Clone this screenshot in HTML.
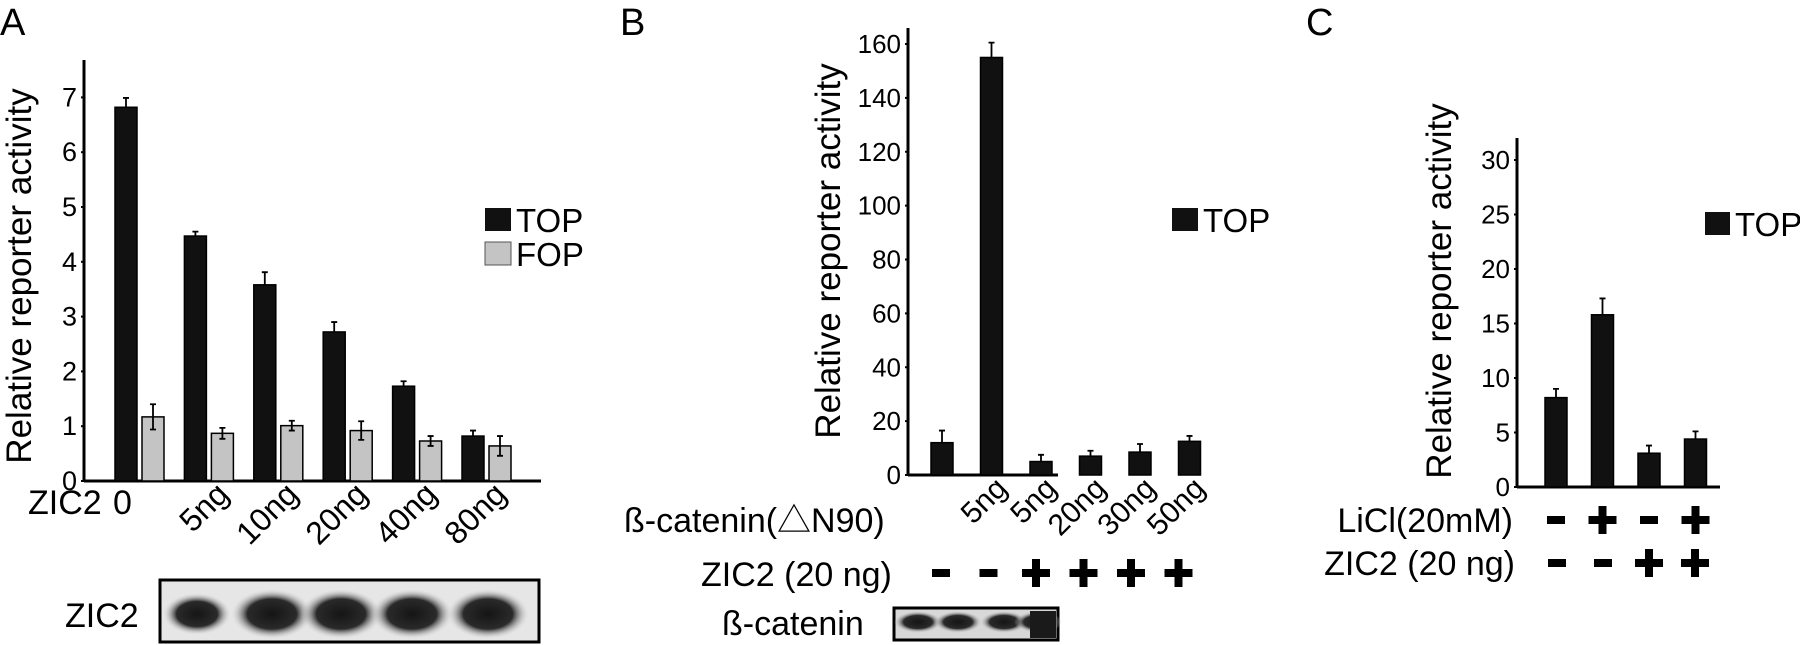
<!DOCTYPE html>
<html><head><meta charset="utf-8"><style>
html,body{margin:0;padding:0;background:#fff}
svg{display:block;font-family:"Liberation Sans",sans-serif}
</style></head><body>
<svg id="fig" width="1800" height="645" viewBox="0 0 1800 645">
<defs>
<radialGradient id="band" cx="50%" cy="50%" r="50%"><stop offset="0" stop-color="#151515"/><stop offset="0.6" stop-color="#2a2a2a"/><stop offset="1" stop-color="#ddd" stop-opacity="0"/></radialGradient>
</defs>
<text x="0" y="35" font-size="38">A</text>
<text x="620" y="35" font-size="38">B</text>
<text x="1306" y="35" font-size="38">C</text>
</svg>
<script>
// Panel A data
const aCats = ["0","5ng","10ng","20ng","40ng","80ng"];
const aTop = [6.82,4.47,3.58,2.72,1.73,0.82];
const aTopErr = [0.17,0.08,0.23,0.18,0.09,0.1];
const aFop = [1.17,0.87,1.01,0.92,0.73,0.64];
const aFopErr = [0.23,0.1,0.09,0.17,0.09,0.18];
const aTicks = [0,1,2,3,4,5,6,7];
// Panel B data
const bCats = ["","5ng","5ng","20ng","30ng","50ng"];
const bZic = ["-","-","+","+","+","+"];
const bTop = [12,155,5,7,8.5,12.5];
const bTopErr = [4.5,5.5,2.5,2,3,2];
const bTicks = [0,20,40,60,80,100,120,140,160];
// Panel C data
const cLicl = ["-","+","-","+"];
const cZic = ["-","-","+","+"];
const cTop = [8.2,15.8,3.1,4.4];
const cTopErr = [0.8,1.5,0.7,0.7];
const cTicks = [0,5,10,15,20,25,30];

const NS="http://www.w3.org/2000/svg";
const svg=document.getElementById('fig');
function mk(tag,attrs,parent){const e=document.createElementNS(NS,tag);for(const k in attrs)e.setAttribute(k,attrs[k]);(parent||svg).appendChild(e);return e;}
function txt(s,attrs){const e=mk('text',attrs);e.textContent=s;return e;}

function axis(x0,yb,ytop,xend,ticks,yScale,name,tickFs){
  let l=mk('line',{x1:x0,y1:ytop,x2:x0,y2:yb,stroke:'#000','stroke-width':3});
  
  
  l=mk('line',{x1:x0,y1:yb,x2:xend,y2:yb,stroke:'#000','stroke-width':3});
  
  
  ticks.forEach(t=>{
    const y=yScale(t);
    mk('line',{x1:x0-3,y1:y,x2:x0,y2:y,stroke:'#000','stroke-width':2});
    const e=txt(String(t),{x:x0-7,y:y+9,'font-size':tickFs,'text-anchor':'end'});
    
    
  });
}
function bar(x,w,v,err,yScale,yb,fill,name,both){
  const y=yScale(v);
  const r=mk('rect',{x:x,y:y,width:w,height:yb-y,fill:fill,stroke:'#000','stroke-width':1.5});
  
  
  const cx=x+w/2, ye=yScale(v+err), yl=yScale(Math.max(0,v-err));
  const d=both?`M${cx},${ye}V${yl}M${cx-3},${ye}H${cx+3}M${cx-3},${yl}H${cx+3}`:`M${cx},${ye}V${y}M${cx-3},${ye}H${cx+3}`;
  const g=mk('path',{d:d,stroke:'#000','stroke-width':1.8,fill:'none'});
  
  
}
function ytitle(bx,cy,fs){
  const e=txt('Relative reporter activity',{x:0,y:0,'font-size':fs,'text-anchor':'middle',transform:`translate(${bx},${cy}) rotate(-90)`});
  
  
}
function sign(s,cx,cy){
  const g=mk('path',{d:s==='+'?`M${cx-14},${cy}H${cx+14}M${cx},${cy-14}V${cy+14}`:`M${cx-9},${cy}H${cx+9}`,stroke:'#000','stroke-width':8,fill:'none'});
  
  
}
function rotLabel(s,x,y,fs){
  const e=txt(s,{x:0,y:0,'font-size':fs,'text-anchor':'end',transform:`translate(${x},${y}) rotate(-45)`});
  
  
}

// ---- Panel A ----
const aYb=481, aU=54.8;
const aY=v=>aYb-v*aU;
axis(84,aYb,60,541,aTicks,aY,'panel-a',27);
ytitle(31,276,35);
aCats.forEach((c,i)=>{
  const x=115+i*69.4;
  bar(x,22,aTop[i],aTopErr[i],aY,aYb,'#111','bar-top-'+i,false);
  bar(x+27,22,aFop[i],aFopErr[i],aY,aYb,'#c4c4c4','bar-fop-'+i,true);
  if(i>0) rotLabel(c,x+46,496,32);
});
let e=txt('ZIC2',{x:28,y:514,'font-size':34});


e=txt('0',{x:113,y:514,'font-size':34});


// legend A
let r=mk('rect',{x:485,y:208,width:26,height:23,fill:'#111'});


e=txt('TOP',{x:516,y:232,'font-size':33});


r=mk('rect',{x:485,y:242,width:26,height:23,fill:'#c4c4c4',stroke:'#555','stroke-width':1});


e=txt('FOP',{x:516,y:266,'font-size':33});


// blot A
r=mk('rect',{x:160,y:580,width:379,height:62,fill:'#e6e6e6',stroke:'#000','stroke-width':3});


[197,272,341,412,488].forEach((cx,i)=>{
  const b=mk('ellipse',{cx:cx,cy:614,rx:i==0?34:41,ry:i==0?21:25,fill:'url(#band)'});
  
  
});
e=txt('ZIC2',{x:65,y:627,'font-size':34});



// ---- Panel B ----
const bYb=475, bU=(475-44)/160;
const bY=v=>bYb-v*bU;
axis(908,bYb,28,1058,bTicks,bY,'panel-b',26);
ytitle(840,251,35);
bTop.forEach((v,i)=>{
  const x=931+i*49.5;
  bar(x,22,v,bTopErr[i],bY,bYb,'#111','bar-b-top-'+i,false);
  if(bCats[i]) rotLabel(bCats[i],x+28,490,30);
  sign(bZic[i],941+i*47.5,573);
});
e=txt('ß-catenin(△N90)',{x:624,y:532,'font-size':34,'font-family':'"Liberation Sans","Noto Sans CJK JP",sans-serif'});


e=txt('ZIC2 (20 ng)',{x:701,y:586,'font-size':34});


r=mk('rect',{x:894,y:608,width:164,height:32,fill:'#d8d8d8',stroke:'#000','stroke-width':3});


[918,958,1004,1038].forEach((cx,i)=>{
  const b=mk('ellipse',{cx:cx,cy:622,rx:24,ry:11,fill:'url(#band)'});
  
  
});
r=mk('rect',{x:1030,y:611,width:26,height:27,fill:'#1a1a1a'});


e=txt('ß-catenin',{x:722,y:635,'font-size':34});


r=mk('rect',{x:1172,y:208,width:26,height:23,fill:'#111'});


e=txt('TOP',{x:1203,y:232,'font-size':33});



// ---- Panel C ----
const cYb=487, cU=(487-160)/30;
const cY=v=>cYb-v*cU;
axis(1517,cYb,138,1720,cTicks,cY,'panel-c',26);
ytitle(1451,291,35);
cTop.forEach((v,i)=>{
  const x=1545+i*46.5;
  bar(x,22,v,cTopErr[i],cY,cYb,'#111','bar-c-top-'+i,false);
  sign(cLicl[i],1556+i*46.5,520);
  sign(cZic[i],1557+i*46,563);
});
e=txt('LiCl(20mM)',{x:1513,y:532,'font-size':34,'text-anchor':'end'});


e=txt('ZIC2 (20 ng)',{x:1515,y:575,'font-size':34,'text-anchor':'end'});


r=mk('rect',{x:1705,y:212,width:25,height:23,fill:'#111'});


e=txt('TOP',{x:1735,y:236,'font-size':33});


</script>
</body></html>
